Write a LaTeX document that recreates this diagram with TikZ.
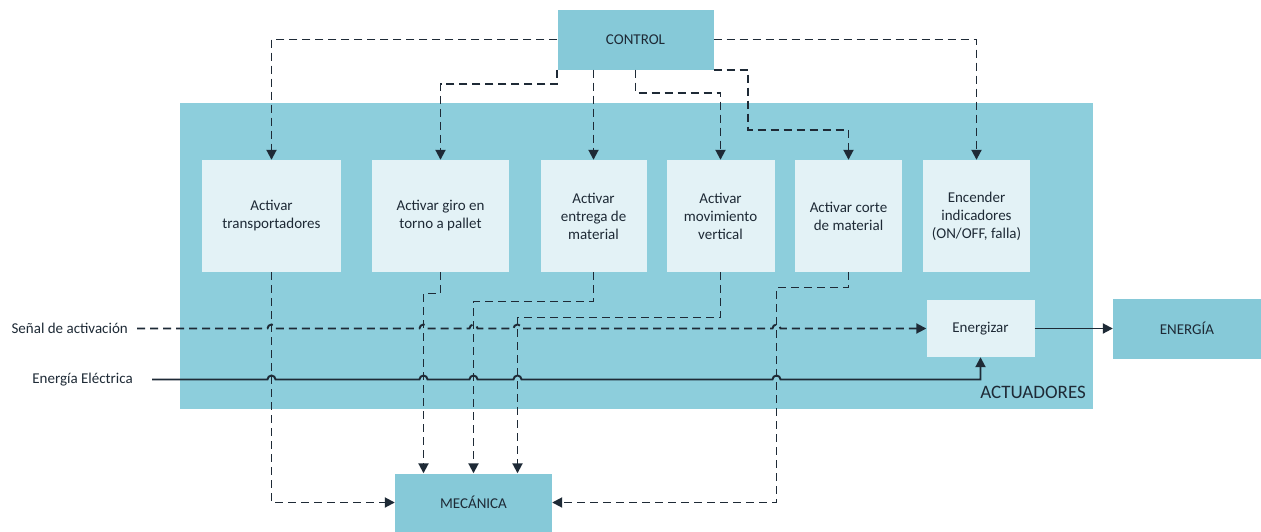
\documentclass[tikz,border=0pt]{standalone}
\usepackage{fontspec}
\setmainfont{Carlito}
\usetikzlibrary{arrows.meta,calc}

\definecolor{tealbg}{HTML}{8DCEDC}
\definecolor{tealbox}{HTML}{86C9D8}
\definecolor{pale}{HTML}{E3F2F6}
\definecolor{ink}{HTML}{1E2A36}

\tikzset{
  blk/.style={fill=tealbox, draw=none, inner sep=0pt, text=ink, font=\fontsize{15}{18}\selectfont},
  fnbox/.style={fill=pale, draw=none, inner sep=2pt, align=center, text=ink,
                minimum height=112pt, font=\fontsize{15}{18}\selectfont},
  lbl/.style={inner sep=0pt, text=ink, font=\fontsize{15}{18}\selectfont},
  sigline/.style={draw=ink, line width=1.9pt, dash pattern=on 8pt off 5pt,
                  -{Triangle[length=10pt,width=10pt]}},
  pwrline/.style={draw=ink, line width=1.9pt, -{Triangle[length=10pt,width=10pt]}}
}

\begin{document}
\begin{tikzpicture}[x=1pt,y=1pt]
\fill[white] (0,0) rectangle (1261,-531);
\useasboundingbox (0,0) rectangle (1261,-531);

% actuator group
\node[blk, fill=tealbg, minimum width=913pt, minimum height=306pt] (act) at (636.5,-256) {};
\node[lbl, anchor=east, font=\fontsize{19}{21}\selectfont] (actlbl) at (1086,-392) {ACTUADORES};

% blocks outside the group
\node[blk, minimum width=156pt, minimum height=60pt] (ctrl) at (635.5,-39.5) {CONTROL};
\node[blk, minimum width=157pt, minimum height=58pt] (mec) at (473.5,-502.5) {MECÁNICA};
\node[blk, minimum width=148pt, minimum height=60pt] (energia) at (1187,-328.5) {ENERGÍA};

% actuator functions
\node[fnbox, minimum width=139pt] (b1) at (271.5,-216) {Activar\\transportadores};
\node[fnbox, minimum width=137pt] (b2) at (440.5,-216) {Activar giro en\\torno a pallet};
\node[fnbox, minimum width=106pt] (b3) at (593.5,-216) {Activar\\entrega de\\material};
\node[fnbox, minimum width=108pt] (b4) at (720.5,-216) {Activar\\movimiento\\vertical};
\node[fnbox, minimum width=107pt] (b5) at (848.5,-216) {Activar corte\\de material};
\node[fnbox, minimum width=107pt] (b6) at (976.5,-216) {Encender\\indicadores\\(ON/OFF, falla)};
\node[fnbox, minimum width=108pt, minimum height=57pt] (ener) at (980.5,-328.5) {Energizar};

% inputs
\node[lbl, anchor=east] (lsig) at (128,-328.5) {Señal de activación};
\node[lbl, anchor=east] (lene) at (133,-379.5) {Energía Eléctrica};
\coordinate (s0) at ($(lsig.east)+(9,0)$);
\coordinate (e0) at ($(lene.east)+(19,0)$);

% routing lanes towards MECÁNICA
\coordinate (v2) at (423.5,-293.5);
\coordinate (v3) at (473.5,-301.5);
\coordinate (v4) at (517.5,-317.5);
\coordinate (v5) at (776.5,-287.5);

% control signals
\draw[sigline] (ctrl.west) -| (b1.north);
\draw[sigline] (ctrl.south west) -- ++(0,-14) -| (b2.north);
\draw[sigline] (ctrl.south -| b3.north) -- (b3.north);
\draw[sigline] (ctrl.south) -- ++(0,-23) -| (b4.north);
\draw[sigline] (ctrl.south east) -- ++(34,0) -- ++(0,-60) -| (b5.north);
\draw[sigline] (ctrl.east) -| (b6.north);

% outputs to MECÁNICA
\draw[sigline] (b1.south) |- (mec.west);
\draw[sigline] (b2.south) |- (v2) -- (v2 |- mec.north);
\draw[sigline] (b3.south) |- (v3) -- (v3 |- mec.north);
\draw[sigline] (b4.south) |- (v4) -- (v4 |- mec.north);
\draw[sigline] (b5.south) |- (v5) |- (mec.east);

% activation signal with line jumps
\draw[sigline] (s0)
  -- ($(s0 -| b1.south)+(-4,0)$) arc[start angle=180,end angle=0,radius=4pt]
  -- ($(s0 -| v2)+(-4,0)$) arc[start angle=180,end angle=0,radius=4pt]
  -- ($(s0 -| v3)+(-4,0)$) arc[start angle=180,end angle=0,radius=4pt]
  -- ($(s0 -| v4)+(-4,0)$) arc[start angle=180,end angle=0,radius=4pt]
  -- ($(s0 -| v5)+(-4,0)$) arc[start angle=180,end angle=0,radius=4pt]
  -- (ener.west);

% electrical supply with line jumps
\draw[pwrline] (e0)
  -- ($(e0 -| b1.south)+(-4,0)$) arc[start angle=180,end angle=0,radius=4pt]
  -- ($(e0 -| v2)+(-4,0)$) arc[start angle=180,end angle=0,radius=4pt]
  -- ($(e0 -| v3)+(-4,0)$) arc[start angle=180,end angle=0,radius=4pt]
  -- ($(e0 -| v4)+(-4,0)$) arc[start angle=180,end angle=0,radius=4pt]
  -- ($(e0 -| v5)+(-4,0)$) arc[start angle=180,end angle=0,radius=4pt]
  -- (e0 -| ener.south) -- (ener.south);

\draw[pwrline] (ener.east) -- (energia.west);
\end{tikzpicture}
\end{document}
